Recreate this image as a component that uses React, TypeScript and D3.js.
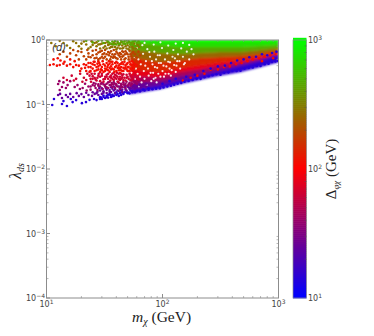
import React from "react";
import * as d3 from "d3";

type Pt = [number, number];

// mass columns and the contours of the dense wedge (lambda at each mass)
const wedgeMass = [52.5, 95, 141, 210, 313, 465, 693, 1000];
const wedgeContours = [
  [0.146, 0.174, 0.208, 0.243, 0.282, 0.319, 0.381, 0.456],
  [0.168, 0.201, 0.24, 0.277, 0.331, 0.395, 0.473, 0.585],
  [0.216, 0.232, 0.277, 0.308, 0.368, 0.425, 0.508, 0.607],
  [0.277, 0.267, 0.319, 0.355, 0.41, 0.456, 0.526, 0.629],
  [0.355, 0.319, 0.368, 0.41, 0.456, 0.49, 0.555, 0.652],
  [0.545, 0.456, 0.49, 0.526, 0.545, 0.565, 0.607, 0.7],
  [0.725, 0.629, 0.607, 0.629, 0.652, 0.652, 0.7, 0.752],
  [0.931, 0.837, 0.779, 0.779, 0.779, 0.779, 0.807, 0.837],
  [1, 0.965, 0.931, 0.931, 0.931, 0.931, 0.931, 0.931],
];
const wedgeDelta = [15, 26, 45, 80, 140, 250, 450, 750, 1000];

// sparse points, grouped by their colour value
const dots14: Pt[] = [[11.2,.098],[13.6,.102],[15,.095],[11.6,.122],[16.2,.122],[18,.117],[20.2,.105],[21.9,.109],[25.7,.122],[28.9,.122],[27,.117],[30,.122],[32,.126],[34,.128],[36,.131],[38,.136],[40,.14],[42,.136],[44,.14],[46,.146],[33,.136],[35.5,.14],[31,.131],[14,.113],[16.8,.109],[23.5,.118],[29.5,.128],[37,.142],[50,.15],[55,.155],[60,.162],[68,.17],[76,.178],[29,.13],[31,.138],[33,.13],[35,.146],[37,.135],[39,.148],[41,.145],[43,.15],[45,.152],[47,.155],[49,.158],[51,.153],[53,.165],[55,.16],[40,.155],[34,.142],[44,.163],[52,.148],[58,.155],[64,.16],[70,.165],[76,.17],[82,.172],[88,.176],[95,.178],[102,.183],[110,.19],[118,.195],[126,.203],[135,.21],[145,.215],[155,.225],[168,.232],[182,.24],[197,.25],[213,.25],[230,.265],[250,.275],[270,.285],[292,.295],[316,.29],[340,.31],[370,.315],[400,.33],[435,.33],[470,.335],[510,.36],[555,.37],[600,.375],[650,.395],[700,.395],[760,.42],[820,.43],[880,.455],[940,.465],[990,.475]];
const dots25: Pt[] = [[13.6,.126],[15.3,.131],[17,.131],[19,.136],[21,.131],[23,.14],[24.7,.136],[26,.146],[28,.14],[30,.146],[33,.151],[36,.156],[39,.151],[42,.162],[45,.156],[14.7,.14],[12.6,.14],[13.1,.146],[16,.146],[18.2,.15],[20,.145],[22,.152],[25,.155],[27.5,.158],[31,.16],[35,.168],[38,.165],[48,.17],[52,.175],[58,.178],[65,.185],[72,.19],[27,.15],[29,.165],[31,.152],[33,.17],[35,.158],[37,.175],[39,.172],[41,.165],[43,.178],[45,.17],[47,.185],[49,.165],[51,.185],[53,.178],[55,.192],[30,.178],[36,.185],[42,.19],[48,.195],[56,.2],[60,.19],[64,.2],[68,.195],[72,.21],[28.5,.18],[32.5,.18],[38,.19],[44,.185],[50,.19]];
const dots40: Pt[] = [[13,.168],[13.6,.187],[14.7,.18],[12.6,.208],[14,.22],[15.2,.2],[16,.23],[17.5,.187],[18.5,.2],[19.4,.174],[20.5,.18],[21.5,.21],[23,.19],[24,.17],[25,.2],[26.5,.18],[27.5,.168],[29,.19],[30.5,.174],[32,.19],[34,.18],[35,.2],[37,.187],[39,.18],[41,.19],[43,.174],[45,.187],[48,.18],[12.9,.23],[22.2,.165],[28,.205],[33,.21],[36.5,.215],[40,.205],[44,.21],[47,.2],[31,.205],[25.5,.215],[28,.195],[30,.215],[32,.2],[34,.22],[36,.2],[38,.222],[40,.195],[42,.215],[44,.2],[46,.222],[48,.21],[50,.195],[52,.215],[54,.205],[56,.225],[26.5,.21],[33,.185],[39,.21],[24,.19],[26,.195],[29.5,.21],[35,.225],[37.5,.205],[41,.225],[43.5,.19],[46,.205],[49,.225],[51,.205],[53,.195],[55,.21],[58,.22],[60,.21],[62,.23]];
const dots65: Pt[] = [[14,.26],[15,.24],[16.5,.28],[18,.25],[19.5,.3],[21,.26],[22,.24],[23.5,.28],[25,.25],[26,.3],[27.5,.26],[29,.23],[30,.28],[32,.25],[34,.3],[36,.26],[38,.24],[40,.28],[42,.25],[44,.3],[17.2,.235],[20.4,.225],[24.2,.225],[28.2,.3],[31,.225],[33,.27],[35.5,.235],[37,.3],[39,.26],[41.5,.225],[43,.27],[46,.24],[49,.26],[53,.24],[27,.235],[29,.27],[31,.245],[33,.29],[35,.27],[37,.25],[39,.29],[41,.27],[43,.24],[45,.28],[47,.26],[49,.29],[51,.25],[53,.28],[55,.26],[25,.275],[30,.3],[36,.28],[42,.3],[48,.235],[54,.24],[24,.25],[26,.26],[28,.28],[32,.27],[34,.25],[38,.27],[40,.25],[44,.25],[46,.295],[50,.27],[52,.3],[54,.27],[56,.25],[58,.29],[60,.26],[62,.245],[22.5,.3],[24.5,.3],[26.5,.245],[38,.31],[40.5,.31],[45,.26]];
const dots110: Pt[] = [[10.7,.41],[11.5,.42],[12.3,.4],[13,.41],[14,.43],[15,.4],[16,.42],[17,.38],[18,.41],[11.5,.5],[12.5,.52],[13.2,.48],[14.3,.46],[16,.5],[17.5,.47],[19,.4],[20,.36],[21,.42],[22,.33],[23,.38],[24,.44],[25,.36],[26,.41],[27,.34],[28,.39],[29.5,.35],[31,.42],[32,.33],[33.5,.38],[35,.43],[37,.36],[38.5,.32],[40,.4],[42,.34],[44,.38],[47,.36],[50,.33],[19.5,.33],[21.5,.37],[23.5,.32],[25.5,.46],[27.5,.43],[29,.32],[30.5,.47],[34,.34],[36,.46],[39,.44],[41,.37],[43,.31],[46,.42],[26,.33],[28,.35],[30,.38],[32,.36],[33,.44],[35,.32],[36,.39],[37,.42],[38,.35],[40,.33],[41,.44],[42,.4],[43,.36],[44,.43],[45,.33],[46,.37],[47,.46],[48,.4],[49,.35],[50,.44],[51,.38],[52,.33],[53,.42],[54,.36],[55,.47],[56,.39],[24,.33],[28.5,.44],[31,.32],[34.5,.47],[22,.41],[23,.44],[25,.42],[27,.38],[29,.41],[30,.34],[32,.4],[33,.35],[34,.41],[35,.37],[36,.35],[37,.46],[39,.38],[40,.46],[42,.37],[43,.42],[44,.34],[45,.45],[46,.33],[48,.37],[49,.42],[50,.38],[51,.33],[52,.46],[53,.36],[54,.41],[55,.34],[56,.44],[57,.37],[58,.42],[60,.4],[62,.35],[64,.46],[26,.46],[28,.47],[24,.38]];
const dots180: Pt[] = [[13,.6],[14,.66],[15,.55],[16,.62],[17,.7],[18,.58],[19,.5],[20,.65],[21,.56],[22,.5],[23,.62],[24,.54],[25,.68],[26,.52],[27,.6],[28,.5],[29,.66],[30,.55],[31.5,.62],[33,.5],[34.5,.58],[36,.67],[37.5,.53],[39,.6],[41,.51],[43,.63],[45,.55],[47.5,.6],[18.7,.67],[22.5,.7],[26.7,.7],[32,.7],[38,.7],[29,.52],[30.5,.6],[32,.55],[34,.65],[35.5,.5],[37,.6],[39,.54],[40,.66],[42,.58],[44,.5],[45,.67],[46,.57],[48,.52],[49,.63],[51,.55],[52,.68],[53,.6],[55,.52],[56,.65],[23,.55],[25,.58],[27,.53],[28,.64],[30,.68],[31,.52],[33,.6],[35,.63],[36,.55],[38,.56],[40,.52],[41,.62],[43,.55],[44,.6],[46,.65],[47,.5],[48,.67],[50,.6],[51,.5],[54,.56],[55,.63],[57,.5],[58,.6],[60,.54],[62,.66],[64,.58]];
const dots280: Pt[] = [[11,.9],[12,.8],[14,.9],[15,.82],[16,.75],[18,.9],[19,.8],[20,.73],[22,.85],[24,.78],[26,.9],[27,.8],[29,.74],[30,.88],[32,.8],[33.5,.92],[35,.75],[37,.85],[39,.78],[41,.9],[43,.74],[45,.82],[21,.95],[17,.96],[13,.97],[24.5,.96],[28,.85],[31,.76],[34,.84],[36,.78],[38,.9],[40,.72],[42,.82],[44,.92],[46,.76],[47,.88],[49,.74],[50,.83],[52,.78],[54,.9],[56,.74],[20,.88],[23,.74],[25,.84],[27,.92],[29,.86],[32,.9],[33,.74],[35,.86],[37,.78],[39,.87],[41,.76],[43,.86],[45,.74],[48,.8],[50,.92],[51,.72],[53,.85],[55,.78],[57,.88],[59,.74],[61,.84],[63,.78]];
const dots450: Pt[] = [[22,.97],[25,.92],[28,.97],[31,.9],[34,.95],[36.5,.87],[39,.96],[42,.88],[45,.94],[48,.87],[51,.96],[30,.98],[35,.9],[40,.85],[44,.98],[47,.96],[50,.9],[53,.85],[56,.95],[33,.99],[37,.95],[38,.85],[41,.95],[43,.87],[46,.88],[49,.98],[52,.92],[55,.88],[58,.98],[60,.9],[62,.96],[64,.88]];

// mixed colours along the lower edge of the wedge
const edgeRed: Pt[] = [[150,.235],[175,.26],[200,.28],[230,.3],[260,.345],[300,.35],[340,.38],[380,.39],[430,.42],[480,.44],[540,.47],[600,.5],[680,.52],[760,.55],[850,.58],[950,.6],[900,.52],[720,.47]];
const edgeBlue: Pt[] = [[100,.21],[115,.23],[130,.25],[160,.27],[190,.29],[225,.33],[260,.36],[300,.39],[345,.4],[390,.44],[440,.48],[500,.5],[560,.54],[640,.55],[720,.6],[800,.58],[880,.63],[960,.66]];

// white specks left between the points of the wedge
const gaps: Pt[] = [[66,.22],[67,.83],[68,.61],[69,.33],[70,.25],[71,.4],[72,.47],[73,.2],[74,.72],[75,.36],[76,.28],[77,.65],[78,.55],[79,.31],[80,.23],[81,.47],[82,.42],[83,.31],[84,.25],[85,.66],[86,.38],[87,.26],[88,.5],[89,.22],[90,.37],[91,.58],[92,.3],[93,.44],[95,.58],[96,.27],[97,.44],[99,.75],[100,.33],[102,.4],[103,.27],[105,.5],[106,.3],[108,.39],[110,.62],[112,.46],[113,.3],[115,.36],[116,.45],[118,.28],[120,.34],[122,.55],[124,.7],[126,.41],[128,.52],[130,.32],[132,.4],[134,.47],[136,.6],[140,.47],[142,.36],[145,.74],[150,.55],[153,.42],[156,.44],[162,.66],[170,.5],[178,.72],[185,.6],[58,.88],[70,.9],[84,.85],[96,.92],[112,.82],[130,.88],[150,.9],[170,.84],[54,.31],[55,.44],[56,.22],[57,.52],[58,.25],[59,.36],[60,.75],[61,.3],[62,.5],[63,.19],[64,.27],[65,.42]];

const massTicks = [10, 100, 1000];
const lambdaTicks = [1, 0.1, 0.01, 0.001, 0.0001];
const deltaTicks = [1000, 100, 10];

const x = d3.scaleLog().domain([10, 1000]).range([46.5, 278.5]);
const y = d3.scaleLog().domain([0.0001, 1]).range([298, 40]);
const cbarY = d3.scaleLog().domain([10, 1000]).range([298, 40]);
const color = d3
  .scaleLog<string>()
  .domain([10, 100, 1000])
  .range(["#0000ff", "#ff0000", "#00ff00"]);

const minorTicks = (domain: [number, number]) =>
  d3.scaleLog().domain(domain).ticks().filter((t) => {
    const e = Math.log10(t);
    return Math.abs(e - Math.round(e)) > 1e-6;
  });

const axisColor = "#8c8c8c";
const tickText = "#444";
const tickFont = "DejaVu Sans";
const labelFont = "Liberation Serif";

function Pow({ px, py, exp, anchor }: { px: number; py: number; exp: number; anchor: string }) {
  return (
    <text x={px} y={py} textAnchor={anchor} fontFamily={tickFont} fontSize={8} fill={tickText}>
      10
      <tspan dy={-3} fontSize={6}>
        {exp < 0 ? `\u2212${-exp}` : exp}
      </tspan>
    </text>
  );
}

export default function App() {
  const groups: [number, Pt[]][] = [
    [14, dots14],
    [25, dots25],
    [40, dots40],
    [65, dots65],
    [110, dots110],
    [180, dots180],
    [280, dots280],
    [450, dots450],
  ];
  const stepValues = d3.range(0, 129).map((i) => 10 ** (1 + (2 * i) / 128));
  const band = (i: number) =>
    d3
      .area<number>()
      .x((_, k) => x(wedgeMass[k]))
      .y0((_, k) => y(wedgeContours[i][k]))
      .y1((_, k) => (i + 1 < wedgeContours.length ? y(wedgeContours[i + 1][k]) : y(1)))(wedgeMass);

  return (
    <svg width={374} height={336} style={{ position: "absolute", left: 0, top: 0, background: "#fff" }}>
      <defs>
        <filter id="soft" x="-5%" y="-5%" width="110%" height="110%">
          <feGaussianBlur stdDeviation={0.4} />
        </filter>
        <filter id="softer" x="-5%" y="-5%" width="110%" height="110%">
          <feGaussianBlur stdDeviation={0.8} />
        </filter>
        <clipPath id="plot">
          <rect x={46.5} y={40} width={232} height={258} />
        </clipPath>
      </defs>

      <g clipPath="url(#plot)">
        <g filter="url(#softer)">
          {wedgeDelta.map((d, i) => (
            <path key={d} d={band(i) ?? ""} fill={color(d)} stroke={color(d)} strokeWidth={0.5} />
          ))}
        </g>
        <g filter="url(#soft)">
          {edgeRed.map(([m, l], i) => (
            <circle key={i} cx={x(m)} cy={y(l)} r={1.3} fill={color(110)} />
          ))}
          {edgeBlue.map(([m, l], i) => (
            <circle key={i} cx={x(m)} cy={y(l)} r={1.3} fill={color(14)} />
          ))}
          {gaps.map(([m, l], i) => (
            <circle key={i} cx={x(m)} cy={y(l)} r={1.1} fill="#fff" opacity={0.9} />
          ))}
          {groups.map(([d, pts]) =>
            pts.map(([m, l], i) => <circle key={`${d}-${i}`} cx={x(m)} cy={y(l)} r={1.3} fill={color(d)} />)
          )}
        </g>
      </g>

      <rect x={46.5} y={40} width={232} height={258} fill="none" stroke={axisColor} strokeWidth={1} />

      {massTicks.map((t) => (
        <line key={t} x1={x(t)} x2={x(t)} y1={298} y2={294} stroke={axisColor} />
      ))}
      {minorTicks([10, 1000]).map((t) => (
        <g key={t} stroke={axisColor} strokeWidth={0.6}>
          <line x1={x(t)} x2={x(t)} y1={298} y2={296} />
          <line x1={x(t)} x2={x(t)} y1={40} y2={42} />
        </g>
      ))}
      {lambdaTicks.map((t) => (
        <line key={t} x1={46.5} x2={50} y1={y(t)} y2={y(t)} stroke={axisColor} />
      ))}
      {minorTicks([0.0001, 1]).map((t) => (
        <g key={t} stroke={axisColor} strokeWidth={0.6}>
          <line x1={46.5} x2={48.5} y1={y(t)} y2={y(t)} />
          <line x1={278.5} x2={276.5} y1={y(t)} y2={y(t)} />
        </g>
      ))}

      {massTicks.map((t) => (
        <Pow key={t} px={x(t)} py={306.5} exp={Math.round(Math.log10(t))} anchor="middle" />
      ))}
      {lambdaTicks.map((t) => (
        <Pow key={t} px={45} py={y(t) + 3} exp={Math.round(Math.log10(t))} anchor="end" />
      ))}

      <text x={52} y={51} fontFamily={tickFont} fontStyle="italic" fontSize={10} fill="#333">
        (d)
      </text>

      <text x={132} y={322} fontFamily={labelFont} fontSize={15.5} fill="#222">
        <tspan fontStyle="italic">m</tspan>
        <tspan fontStyle="italic" fontSize={10} dy={3}>χ</tspan>
        <tspan dy={-3}> (GeV)</tspan>
      </text>
      <text
        transform="translate(21,171) rotate(-90)"
        textAnchor="middle"
        fontFamily={labelFont}
        fontSize={16}
        fill="#222"
      >
        <tspan fontStyle="italic">λ</tspan>
        <tspan fontStyle="italic" fontSize={10} dy={3}>ds</tspan>
      </text>

      {stepValues.map((v) => (
        <rect key={v} x={293} y={cbarY(v) - 2.2} width={13.5} height={2.6} fill={color(v)} />
      ))}
      <rect x={293} y={40} width={13.5} height={258} fill="none" stroke={axisColor} strokeWidth={0.7} />
      {deltaTicks.map((t) => (
        <Pow key={t} px={308} py={cbarY(t) + 3} exp={Math.round(Math.log10(t))} anchor="start" />
      ))}
      {minorTicks([10, 1000]).map((t) => (
        <line key={t} x1={304.5} x2={306.5} y1={cbarY(t)} y2={cbarY(t)} stroke="#555" strokeWidth={0.5} />
      ))}
      <text
        transform="translate(336,169) rotate(-90)"
        textAnchor="middle"
        fontFamily={labelFont}
        fontSize={15}
        fill="#222"
      >
        Δ
        <tspan fontStyle="italic" fontSize={9} dy={3}>φχ</tspan>
        <tspan dy={-3}> (GeV)</tspan>
      </text>
    </svg>
  );
}
